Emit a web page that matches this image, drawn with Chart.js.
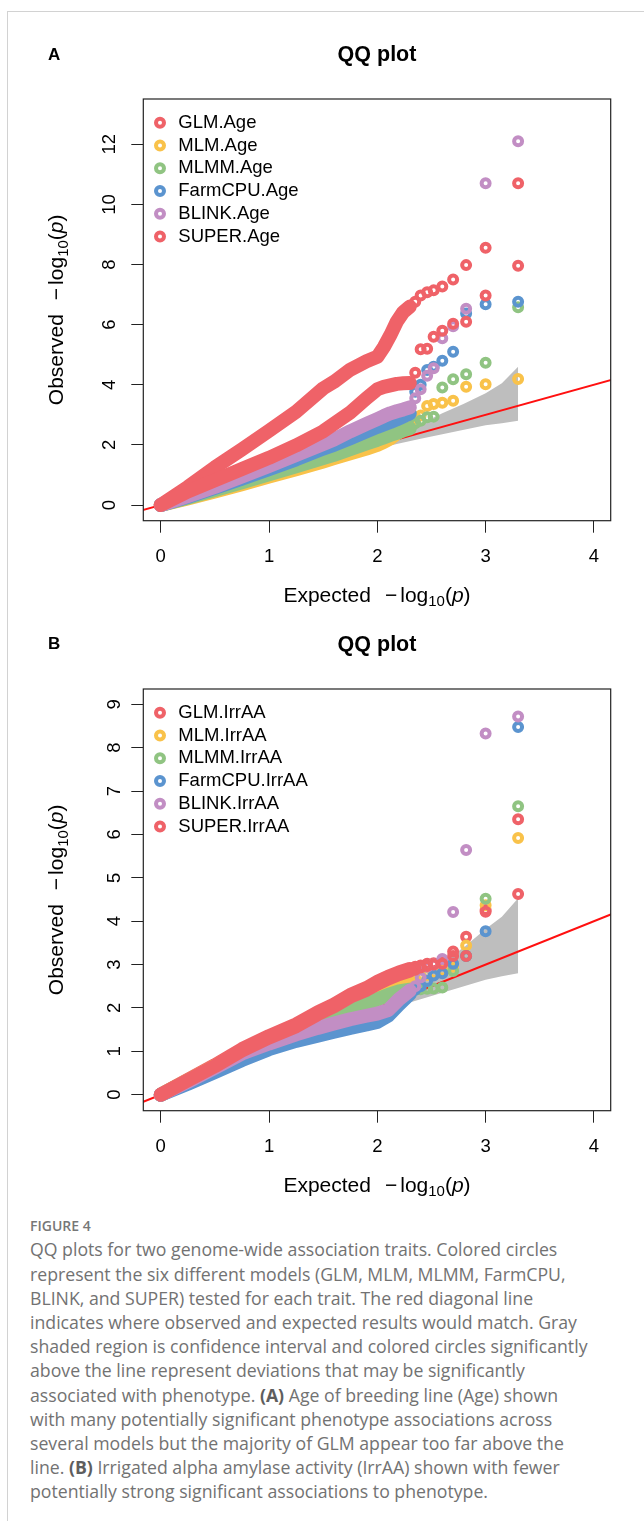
<!DOCTYPE html>
<html><head><meta charset="utf-8">
<script src="https://cdn.jsdelivr.net/npm/chart.js@4.4.1/dist/chart.umd.min.js"></script>
<style>
html,body{margin:0;padding:0;background:#fff;}
body{width:644px;height:1521px;position:relative;overflow:hidden;}
canvas{position:absolute;left:0;}
#cA{top:0px;}
#cB{top:590px;}
.frameTop{position:absolute;left:7px;top:11px;width:637px;height:0;border-top:1px solid #d2d2d2;}
.frameLeft{position:absolute;left:7px;top:11px;width:0;height:1510px;border-left:1px solid #d2d2d2;}
.letter{position:absolute;left:48px;font:bold 17px/17px "Liberation Sans",Arial,sans-serif;color:#000;}
#fig{position:absolute;left:30px;top:1219px;font:600 14px/14px "Open Sans",sans-serif;color:#777;}
#cap{position:absolute;left:30px;top:1237.4px;font:400 17.7px/24.2px "Open Sans",sans-serif;color:#727272;white-space:nowrap;}
#cap b{font-weight:700;color:#5e5e5e;}
</style></head>
<body>
<div class="frameTop"></div><div class="frameLeft"></div>
<canvas id="cA" width="644" height="620"></canvas>
<canvas id="cB" width="644" height="620"></canvas>
<div class="letter" style="top:46px">A</div>
<div class="letter" style="top:635px">B</div>
<div id="fig">FIGURE 4</div>
<div id="cap">
<div>QQ plots for two genome-wide association traits. Colored circles</div>
<div>represent the six different models (GLM, MLM, MLMM, FarmCPU,</div>
<div>BLINK, and SUPER) tested for each trait. The red diagonal line</div>
<div>indicates where observed and expected results would match. Gray</div>
<div>shaded region is confidence interval and colored circles significantly</div>
<div>above the line represent deviations that may be significantly</div>
<div>associated with phenotype. <b>(A)</b> Age of breeding line (Age) shown</div>
<div>with many potentially significant phenotype associations across</div>
<div>several models but the majority of GLM appear too far above the</div>
<div>line. <b>(B)</b> Irrigated alpha amylase activity (IrrAA) shown with fewer</div>
<div>potentially strong significant associations to phenotype.</div>
</div>
<script>
// ---------------- data ----------------
const modelNames = ['GLM','MLM','MLMM','FarmCPU','BLINK','SUPER'];
const modelColors = ['#EF6268','#F9C24A','#90C482','#5B94CF','#C28EC4','#EF6268'];
const traitA = 'Age';
const traitB = 'IrrAA';
const plotTitle = 'QQ plot';
const xTitleWord = 'Expected';
const yTitleWord = 'Observed';

const xTickValues = [0,1,2,3,4];
const yTickValuesA = [0,2,4,6,8,10,12];
const yTickValuesB = [0,1,2,3,4,5,6,7,8,9];

// expected -log10(p) of the nine most significant markers (separate circles)
const tailExpected = [3.30,3.00,2.82,2.70,2.60,2.52,2.46,2.40,2.35];

// dense part of each QQ curve (overlapping circles), panel A
const denseExpectedA = [0,0.25,0.5,0.75,1.0,1.25,1.5,1.6,1.75,1.9,2.0,2.06,2.12,2.18,2.24,2.3];
const denseA_GLM     = [0,0.60,1.25,1.85,2.47,3.10,3.88,4.10,4.50,4.78,4.93,5.25,5.65,6.10,6.42,6.60];
const denseA_MLM     = [0,0.22,0.45,0.69,0.95,1.19,1.45,1.56,1.72,1.88,2.00,2.10,2.22,2.38,2.55,2.75];
const denseA_MLMM    = [0,0.24,0.50,0.76,1.02,1.29,1.56,1.67,1.86,2.05,2.17,2.25,2.33,2.40,2.48,2.55];
const denseA_FarmCPU = [0,0.27,0.57,0.88,1.19,1.52,1.88,2.00,2.22,2.45,2.60,2.68,2.76,2.85,2.95,3.05];
const denseA_BLINK   = [0,0.30,0.60,0.95,1.30,1.66,2.03,2.18,2.45,2.70,2.86,2.96,3.05,3.12,3.18,3.25];
const denseA_SUPER   = [0,0.45,0.82,1.20,1.57,1.98,2.45,2.70,3.08,3.55,3.85,3.93,3.98,4.03,4.05,4.06];

const tailA_GLM     = [10.70,8.56,7.98,7.50,7.27,7.14,7.08,6.97,6.76];
const tailA_MLM     = [4.19,4.02,3.93,3.47,3.40,3.36,3.29,2.98,2.92];
const tailA_MLMM    = [6.58,4.73,4.35,4.18,3.91,2.94,2.92,2.80,2.72];
const tailA_FarmCPU = [6.76,6.68,6.37,5.10,4.80,4.60,4.49,4.00,3.77];
const tailA_BLINK   = [12.10,10.70,6.53,5.95,5.55,4.55,4.30,3.85,3.55];
const tailA_SUPER   = [7.96,6.97,6.10,6.03,5.80,5.60,5.20,5.18,4.40];

// panel B
const denseExpectedB = [0,0.25,0.5,0.75,1.0,1.25,1.45,1.6,1.75,1.9,2.0,2.1,2.2,2.3];
const denseB_GLM     = [0,0.34,0.68,1.05,1.35,1.62,1.90,2.08,2.30,2.46,2.60,2.72,2.82,2.90];
const denseB_MLM     = [0,0.33,0.66,1.00,1.30,1.55,1.78,1.95,2.10,2.25,2.35,2.45,2.55,2.65];
const denseB_MLMM    = [0,0.32,0.64,0.98,1.26,1.50,1.72,1.88,2.00,2.12,2.20,2.30,2.38,2.42];
const denseB_FarmCPU = [0,0.25,0.52,0.80,1.05,1.24,1.36,1.45,1.54,1.62,1.68,1.82,2.08,2.32];
const denseB_BLINK   = [0,0.30,0.62,0.95,1.18,1.39,1.54,1.64,1.74,1.82,1.87,1.95,2.20,2.40];
const denseB_SUPER   = [0,0.33,0.66,1.02,1.32,1.58,1.86,2.04,2.26,2.42,2.56,2.68,2.78,2.86];

const tailB_GLM     = [6.35,4.26,3.64,3.30,3.05,3.03,3.02,2.98,2.95];
const tailB_MLM     = [5.92,4.37,3.44,2.95,2.86,2.80,2.76,2.72,2.68];
const tailB_MLMM    = [6.65,4.52,3.20,2.85,2.47,2.45,2.44,2.43,2.42];
const tailB_FarmCPU = [8.48,3.77,3.20,3.02,2.80,2.75,2.62,2.50,2.42];
const tailB_BLINK   = [8.72,8.33,5.64,4.21,3.13,3.00,2.95,2.70,2.50];
const tailB_SUPER   = [4.63,4.22,3.20,3.20,3.02,3.00,2.97,2.93,2.88];

// gray confidence band
const bandExpected = [0,1,1.5,1.8,2.0,2.2,2.4,2.6,2.8,3.0,3.15,3.3];
const bandUpperA = [0,1.03,1.55,1.88,2.12,2.40,2.70,3.05,3.37,3.72,4.05,4.60];
const bandLowerA = [0,0.97,1.45,1.72,1.88,2.05,2.20,2.35,2.50,2.65,2.72,2.80];
const bandUpperB = [0,1.03,1.55,1.88,2.12,2.40,2.70,3.05,3.40,3.82,4.10,4.53];
const bandLowerB = [0,0.97,1.45,1.72,1.88,2.05,2.20,2.35,2.50,2.65,2.73,2.80];

// identity line end points
const diagonal = [-1, 6];

// axis ranges
const xRange = [-0.161, 4.155];
const yRangeA = [-0.522, 13.506];
const yRangeB = [-0.369, 9.354];

// ---------------- drawing ----------------
const FAM = '"Liberation Sans", Arial, Helvetica, sans-serif';
Chart.defaults.font.family = FAM;
Chart.defaults.color = '#000';

function titleSegs(word) {
  const f = '21px ' + FAM;
  return [
    {t: word, font: f}, {gap: 14}, {t: '\u2212', font: f}, {gap: 3},
    {t: 'log', font: f}, {t: '10', font: '15px ' + FAM, dy: 4.5},
    {t: '(', font: f}, {t: 'p', font: 'italic 21px ' + FAM}, {t: ')', font: f}
  ];
}
function drawRich(ctx, segs, cx, cy, rotate) {
  ctx.save();
  ctx.translate(cx, cy);
  if (rotate) ctx.rotate(-Math.PI / 2);
  let total = 0;
  segs.forEach(s => { if (s.gap) total += s.gap; else { ctx.font = s.font; s.w = ctx.measureText(s.t).width; total += s.w; } });
  let x = -total / 2;
  ctx.textBaseline = 'alphabetic'; ctx.textAlign = 'left'; ctx.fillStyle = '#000';
  segs.forEach(s => {
    if (s.gap) { x += s.gap; return; }
    ctx.font = s.font; ctx.fillText(s.t, x, s.dy || 0); x += s.w;
  });
  ctx.restore();
}

const decor = {
  id: 'decor',
  afterDraw(chart, args, o) {
    const ctx = chart.ctx, a = chart.chartArea;
    ctx.save();
    ctx.strokeStyle = '#222'; ctx.lineWidth = 1.2;
    ctx.strokeRect(a.left, a.top, a.right - a.left, a.bottom - a.top);
    ctx.font = '18.5px ' + FAM;
    ctx.textBaseline = 'middle'; ctx.textAlign = 'left';
    o.labels.forEach((lab, i) => {
      const y = a.top + 23.7 + i * 22.75;
      ctx.beginPath(); ctx.arc(a.left + 16.7, y, 4, 0, Math.PI * 2);
      ctx.lineWidth = 4; ctx.strokeStyle = o.colors[i]; ctx.stroke();
      ctx.fillStyle = '#000'; ctx.fillText(lab, a.left + 35, y);
    });
    drawRich(ctx, titleSegs(xTitleWord), (a.left + a.right) / 2, a.bottom + 81, false);
    drawRich(ctx, titleSegs(yTitleWord), 63, (a.top + a.bottom) / 2, true);
    ctx.restore();
  }
};

function buildChart(id, p) {
  const ds = [];
  ds.push({data: bandExpected.map((x, i) => ({x, y: p.bandLower[i]})), showLine: true, pointRadius: 0,
    borderWidth: 0, borderColor: 'rgba(0,0,0,0)', fill: false, order: 100});
  ds.push({data: bandExpected.map((x, i) => ({x, y: p.bandUpper[i]})), showLine: true, pointRadius: 0,
    borderWidth: 0, borderColor: 'rgba(0,0,0,0)', backgroundColor: '#BEBEBE', fill: '-1', order: 100});
  ds.push({data: diagonal.map(v => ({x: v, y: v})), showLine: true, pointRadius: 0,
    borderWidth: 2, borderColor: '#FF1010', order: 50});
  modelNames.forEach((m, k) => {
    const col = modelColors[k];
    ds.push({label: m + '.' + p.trait, data: p.denseX.map((x, i) => ({x, y: p.dense[k][i]})), showLine: true,
      pointRadius: 0, borderWidth: 14, borderColor: col, borderCapStyle: 'round', borderJoinStyle: 'round',
      tension: 0, order: 10 - k});
    ds.push({label: m + '.' + p.trait + ' top', data: tailExpected.map((x, i) => ({x, y: p.tail[k][i]})), showLine: false,
      pointRadius: 4, pointBorderWidth: 4, pointBorderColor: col, pointBackgroundColor: 'rgba(0,0,0,0)',
      pointHoverRadius: 4, order: 10 - k});
  });
  const gridOpts = {drawOnChartArea: false, drawTicks: true, tickLength: 12, color: '#222', lineWidth: 1};
  return new Chart(document.getElementById(id), {
    type: 'scatter',
    data: {datasets: ds},
    options: {
      responsive: false, animation: false, devicePixelRatio: 1,
      layout: {padding: {left: 0, right: 33.3, top: 0, bottom: 0}},
      events: [],
      scales: {
        x: {type: 'linear', min: xRange[0], max: xRange[1],
          afterBuildTicks: s => { s.ticks = xTickValues.map(v => ({value: v})); },
          afterFit: s => { s.height = 99.3; },
          ticks: {font: {size: 18.5}, color: '#000', padding: 13, minRotation: 0, maxRotation: 0, autoSkip: false},
          grid: gridOpts, border: {display: false}},
        y: {type: 'linear', min: p.yRange[0], max: p.yRange[1],
          afterBuildTicks: s => { s.ticks = p.yTicks.map(v => ({value: v})); },
          afterFit: s => { s.width = 143.3; },
          ticks: {font: {size: 18.5}, color: '#000', padding: 11, minRotation: 90, maxRotation: 90,
            crossAlign: 'center', autoSkip: false},
          grid: gridOpts, border: {display: false}}
      },
      plugins: {
        legend: {display: false}, tooltip: {enabled: false},
        title: {display: true, text: plotTitle, fullSize: false, color: '#000',
          font: {size: 21.5, weight: 'bold'}, padding: {top: 42.1, bottom: 31.1}},
        decor: {labels: modelNames.map(m => m + '.' + p.trait), colors: modelColors}
      }
    },
    plugins: [decor]
  });
}

buildChart('cA', {
  trait: traitA, yRange: yRangeA, yTicks: yTickValuesA,
  denseX: denseExpectedA,
  dense: [denseA_GLM, denseA_MLM, denseA_MLMM, denseA_FarmCPU, denseA_BLINK, denseA_SUPER],
  tail: [tailA_GLM, tailA_MLM, tailA_MLMM, tailA_FarmCPU, tailA_BLINK, tailA_SUPER],
  bandUpper: bandUpperA, bandLower: bandLowerA
});
buildChart('cB', {
  trait: traitB, yRange: yRangeB, yTicks: yTickValuesB,
  denseX: denseExpectedB,
  dense: [denseB_GLM, denseB_MLM, denseB_MLMM, denseB_FarmCPU, denseB_BLINK, denseB_SUPER],
  tail: [tailB_GLM, tailB_MLM, tailB_MLMM, tailB_FarmCPU, tailB_BLINK, tailB_SUPER],
  bandUpper: bandUpperB, bandLower: bandLowerB
});
</script>
</body></html>
